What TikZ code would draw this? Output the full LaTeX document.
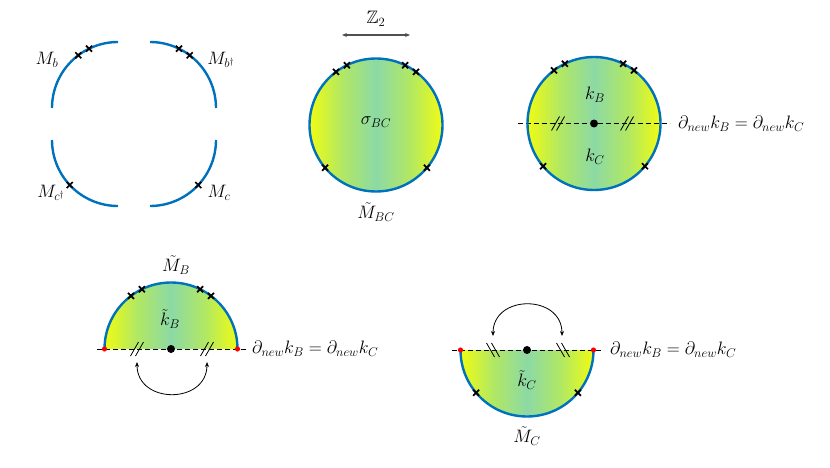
\RequirePackage{fix-cm}
\documentclass[tikz,border=0pt]{standalone}
\usepackage{amssymb}
\usetikzlibrary{arrows.meta}
\definecolor{mblue}{RGB}{0,114,189}
\definecolor{myel}{RGB}{240,252,18}
\definecolor{mmid}{RGB}{178,232,98}
\definecolor{mteal}{RGB}{140,217,165}
\definecolor{mgray}{RGB}{80,80,80}
\pgfdeclarehorizontalshading{diskgrad}{100bp}{color(0bp)=(myel); color(25bp)=(myel); color(37bp)=(mmid); color(50bp)=(mteal); color(63bp)=(mmid); color(75bp)=(myel); color(100bp)=(myel)}
\tikzset{
  pics/xmk/.style={code={\draw[line width=1.7pt] (-3,-3)--(3,3) (-3,3)--(3,-3);}},
  pics/fslash/.style={code={\draw[line width=0.8pt] (-6.5,-7)--(1.5,7) (-1.5,-7)--(6.5,7);}},
  pics/bslash/.style={code={\draw[line width=0.8pt] (-6.5,7)--(1.5,-7) (-1.5,7)--(6.5,-7);}},
}
\begin{document}
\begin{tikzpicture}[x=1pt,y=1pt,
  lbl/.style={font=\fontsize{18}{21}\selectfont, inner sep=0pt},
  bnd/.style={draw=mblue, line width=2.4pt},
  fillgrad/.style={shading=diskgrad},
  cut/.style={dash pattern=on 5pt off 3pt, line width=1pt},
  swap/.style={{Stealth[length=5pt,width=4pt]}-{Stealth[length=5pt,width=4pt]}, line width=0.8pt},
  reddot/.style={fill=red, draw=none},
  blackdot/.style={fill=black, draw=none},
]
\useasboundingbox (0,0) rectangle (830,467);

% ---------- panel 1: four quarter arcs ----------
\coordinate (tl) at (118,359);
\coordinate (tr) at (150,359);
\coordinate (bl) at (118,327);
\coordinate (br) at (150,327);
\draw[bnd] (tl) ++(180:66) arc[start angle=180,end angle=90,radius=66];
\draw[bnd] (tr) ++(90:66) arc[start angle=90,end angle=0,radius=66];
\draw[bnd] (bl) ++(180:66) arc[start angle=180,end angle=270,radius=66];
\draw[bnd] (br) ++(270:66) arc[start angle=270,end angle=360,radius=66];
\path (tl) ++(127:66) pic {xmk};
\path (tl) ++(116:66) pic {xmk};
\path (tr) ++(64:66) pic {xmk};
\path (tr) ++(53:66) pic {xmk};
\path (bl) ++(223:66) pic {xmk};
\path (br) ++(317:66) pic {xmk};
\node[lbl] (mb) at (47,407) {$M_b$};
\node[lbl] (mbd) at (221,407) {$M_{b^\dagger}$};
\node[lbl] (mcd) at (51,274) {$M_{c^\dagger}$};
\node[lbl] (mc) at (219,274) {$M_c$};

% ---------- panel 2: full disk ----------
\coordinate (c2) at (376,342);
\shade[fillgrad] (c2) circle[radius=66.5];
\draw[bnd] (c2) circle[radius=66.5];
\foreach \a in {127,116,64,53,220,320} \path (c2) ++(\a:66.5) pic {xmk};
\node[lbl] (sbc) at (376,345) {$\sigma_{BC}$};
\node[lbl] (mtbc) at (376,255) {$\tilde{M}_{BC}$};
\coordinate (zl) at (342,432);
\coordinate (zr) at (410,432);
\draw[{Stealth[length=5pt,width=4pt]}-{Stealth[length=5pt,width=4pt]}, draw=mgray, line width=1.2pt] (zl) -- (zr);
\node[lbl] (z2) at (376,448) {$\mathbb{Z}_2$};

% ---------- panel 3: disk cut in two ----------
\coordinate (c3) at (594,343.5);
\coordinate (d3l) at (518,343.5);
\coordinate (d3r) at (670,343.5);
\shade[fillgrad] (c3) circle[radius=66.5];
\draw[cut] (d3l) -- (d3r);
\draw[bnd] (c3) circle[radius=66.5];
\fill[blackdot] (c3) circle[radius=4];
\path (558,343.5) pic {fslash};
\path (627,343.5) pic {fslash};
\foreach \a in {127,116,64,53,220,320} \path (c3) ++(\a:66.5) pic {xmk};
\node[lbl] (kb3) at (595,372) {$k_B$};
\node[lbl] (kc3) at (595,310) {$k_C$};
\node[lbl, anchor=west] (e3) at (678,343.5) {$\partial_{new}k_B=\partial_{new}k_C$};

% ---------- panel 4: upper half disk ----------
\coordinate (c4) at (171,118);
\coordinate (d4l) at (97,118);
\coordinate (d4r) at (247,118);
\shade[fillgrad] (c4) ++(180:66.5) arc[start angle=180,end angle=0,radius=66.5] -- cycle;
\draw[cut] (d4l) -- (d4r);
\draw[bnd] (c4) ++(180:66.5) arc[start angle=180,end angle=0,radius=66.5];
\fill[reddot] (c4) ++(180:66.5) circle[radius=2.6];
\fill[reddot] (c4) ++(0:66.5) circle[radius=2.6];
\fill[blackdot] (c4) circle[radius=4];
\path (137,118) pic {fslash};
\path (207,118) pic {fslash};
\foreach \a in {127,116,64,53} \path (c4) ++(\a:66.5) pic {xmk};
\coordinate (a4l) at (137,105);
\coordinate (a4r) at (207,105);
\draw[swap] (a4l) to[out=-90,in=-90,looseness=1.56] (a4r);
\node[lbl] (mtb) at (176,202) {$\tilde{M}_B$};
\node[lbl] (ktb) at (170,148) {$\tilde{k}_B$};
\node[lbl, anchor=west] (e4) at (252,118) {$\partial_{new}k_B=\partial_{new}k_C$};

% ---------- panel 5: lower half disk ----------
\coordinate (c5) at (527,117);
\coordinate (d5l) at (452,117);
\coordinate (d5r) at (603,117);
\shade[fillgrad] (c5) ++(180:66.5) arc[start angle=180,end angle=360,radius=66.5] -- cycle;
\draw[cut] (d5l) -- (d5r);
\draw[bnd] (c5) ++(180:66.5) arc[start angle=180,end angle=360,radius=66.5];
\fill[reddot] (c5) ++(180:66.5) circle[radius=2.6];
\fill[reddot] (c5) ++(0:66.5) circle[radius=2.6];
\fill[blackdot] (c5) circle[radius=4];
\path (493,117) pic {bslash};
\path (563,117) pic {bslash};
\foreach \a in {220,320} \path (c5) ++(\a:66.5) pic {xmk};
\coordinate (a5l) at (493,131);
\coordinate (a5r) at (562,131);
\draw[swap] (a5l) to[out=90,in=90,looseness=1.56] (a5r);
\node[lbl] (ktc) at (527,87) {$\tilde{k}_C$};
\node[lbl] (mtc) at (527,31) {$\tilde{M}_C$};
\node[lbl, anchor=west] (e5) at (610,117) {$\partial_{new}k_B=\partial_{new}k_C$};
\end{tikzpicture}
\end{document}
